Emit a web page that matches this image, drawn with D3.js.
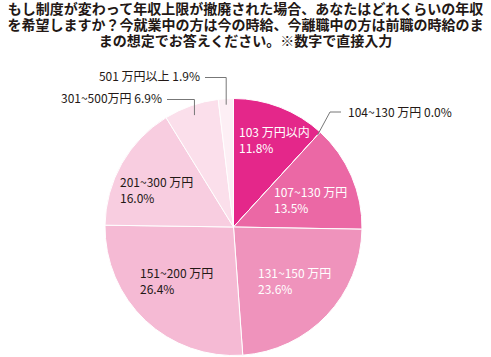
<!DOCTYPE html>
<html><head><meta charset="utf-8">
<script src="https://cdn.jsdelivr.net/npm/d3@7"></script>
<style>
html,body{margin:0;padding:0;background:#fff;}
svg{display:block;}
</style></head>
<body>
<svg id="c" width="491" height="357"></svg>
<script>
const titleLines = [
  "もし制度が変わって年収上限が撤廃された場合、あなたはどれくらいの年収",
  "を希望しますか？今就業中の方は今の時給、今離職中の方は前職の時給のま",
  "まの想定でお答えください。※数字で直接入力"
];
const categories = ["103万円以内","104~130万円","107~130万円","131~150万円","151~200万円","201~300万円","301~500万円","501万円以上"];
const labelNames = ["103 万円以内","104~130 万円","107~130 万円","131~150 万円","151~200 万円","201~300 万円","301~500万円","501 万円以上"];
const values = [11.8, 0.0, 13.5, 23.6, 26.4, 16.0, 6.9, 1.9];
const colors = ["#e4278a","#e4278a","#eb68a5","#ef93bc","#f5bad4","#f8cde0","#fbdfeb","#fdeff5"];

const svg = d3.select("#c");
const font = "'Noto Sans CJK JP','Noto Sans',sans-serif";
const titleFont = "'Liberation Sans','Noto Sans CJK JP',sans-serif";

// title
svg.append("g").selectAll("text").data(titleLines).join("text")
  .attr("x", 245.5).attr("y", (d,i)=>13.5 + i*16)
  .attr("text-anchor","middle")
  .attr("font-family", titleFont).attr("font-weight","bold").attr("font-size", 14)
  .attr("fill","#231815")
  .text(d=>d);

const cx = 233.5, cy = 227, R = 128.5;
const pie = d3.pie().sort(null).value(d=>d)(values);
const arc = d3.arc().innerRadius(0).outerRadius(R);
const g = svg.append("g").attr("transform",`translate(${cx},${cy})`);
g.selectAll("path").data(pie).join("path")
  .attr("d", arc)
  .attr("fill",(d,i)=>colors[i])
  .attr("stroke","#fff").attr("stroke-width",1);

// inside labels: [index, x, y, color]
const inside = [
  [0, 239, 137, "#fff"],
  [2, 274, 197, "#fff"],
  [3, 258, 278, "#fff"],
  [4, 140, 278, "#231815"],
  [5, 120, 187, "#231815"]
];
const lab = svg.append("g").attr("font-family", font).attr("font-size", 12);
inside.forEach(([i,x,y,c])=>{
  const t = lab.append("text").attr("x",x).attr("y",y).attr("fill",c);
  t.append("tspan").attr("x",x).attr("dy",0).text(labelNames[i]);
  t.append("tspan").attr("x",x).attr("dy",15.5).text(values[i].toFixed(1)+"%");
});

function edgePoint(a, r){ return [cx + r*Math.sin(a), cy - r*Math.cos(a)]; }
const lines = svg.append("g").attr("stroke","#777").attr("stroke-width",1).attr("fill","none");

// 104~130 (zero slice)
{
  const p = edgePoint(pie[1].startAngle, R-4);
  lines.append("polyline").attr("points", [[p[0],p[1]],[330,112],[341,112]].map(d=>d.join(",")).join(" "));
  lab.append("text").attr("x",348).attr("y",117).attr("fill","#231815")
    .text(labelNames[1]+" "+values[1].toFixed(1)+"%");
}
// 301~500
{
  const p = edgePoint((pie[6].startAngle+pie[6].endAngle)/2, R-10);
  lines.append("polyline").attr("points", [[167,99.5],[p[0],99.5],[p[0],p[1]]].map(d=>d.join(",")).join(" "));
  lab.append("text").attr("x",162).attr("y",103).attr("text-anchor","end").attr("fill","#231815")
    .text(labelNames[6]+" "+values[6].toFixed(1)+"%");
}
// 501+
{
  const p = edgePoint((pie[7].startAngle+pie[7].endAngle)/2, R-6);
  lines.append("polyline").attr("points", [[205,77.5],[p[0],77.5],[p[0],p[1]]].map(d=>d.join(",")).join(" "));
  lab.append("text").attr("x",200).attr("y",81).attr("text-anchor","end").attr("fill","#231815")
    .text(labelNames[7]+" "+values[7].toFixed(1)+"%");
}
</script>
</body></html>
